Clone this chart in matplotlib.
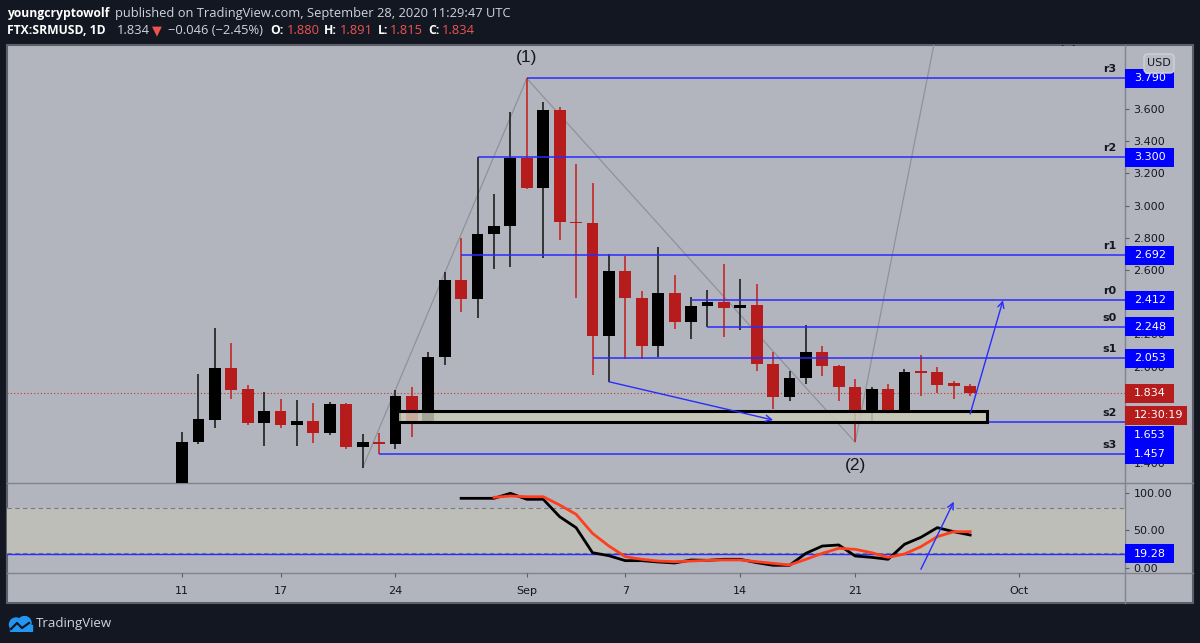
import numpy as np
import pandas as pd
import matplotlib
matplotlib.use('Agg')
import matplotlib.pyplot as plt
import matplotlib.dates as mdates
import matplotlib.transforms as mtransforms
from matplotlib.patches import Rectangle, FancyBboxPatch, Circle

# ---- daily candles FTX:SRMUSD (Aug 11 .. Sep 28, 2020) ----
dates = pd.date_range('2020-08-11', '2020-09-28', freq='D')
opens = [1.200, 1.534, 1.668, 1.989, 1.859, 1.652, 1.724, 1.637, 1.662, 1.586,
         1.766, 1.503, 1.534, 1.517, 1.817, 1.660, 2.062, 2.538, 2.420, 2.824,
         2.875, 3.298, 3.111, 3.594, 2.900, 2.891, 2.190, 2.594, 2.428, 2.128,
         2.455, 2.279, 2.376, 2.403, 2.362, 2.383, 2.016, 1.813, 1.927, 2.093,
         2.004, 1.875, 1.730, 1.859, 1.730, 1.973, 1.965, 1.900, 1.880]
highs = [1.596, 1.954, 2.238, 2.145, 1.886, 1.840, 1.799, 1.793, 1.776, 1.779,
         1.772, 1.580, 1.586, 1.855, 1.871, 2.089, 2.588, 2.797, 3.300, 3.071,
         3.580, 3.790, 3.642, 3.610, 3.258, 3.139, 2.698, 2.687, 2.470, 2.745,
         2.569, 2.430, 2.476, 2.637, 2.542, 2.511, 2.089, 1.975, 2.258, 2.128,
         2.010, 1.921, 1.876, 1.890, 1.985, 2.072, 1.996, 1.913, 1.891]
lows = [1.150, 1.519, 1.621, 1.799, 1.637, 1.509, 1.617, 1.509, 1.527, 1.575,
        1.486, 1.372, 1.457, 1.486, 1.565, 1.653, 2.010, 2.337, 2.300, 2.604,
        2.621, 3.102, 2.673, 2.786, 2.424, 1.948, 1.906, 2.045, 2.045, 2.058,
        2.232, 2.170, 2.248, 2.186, 2.227, 1.973, 1.735, 1.788, 1.890, 1.942,
        1.788, 1.530, 1.658, 1.704, 1.720, 1.817, 1.834, 1.797, 1.815]
closes = [1.534, 1.673, 1.989, 1.855, 1.648, 1.724, 1.637, 1.662, 1.586, 1.766,
          1.503, 1.534, 1.517, 1.817, 1.664, 2.062, 2.538, 2.420, 2.824, 2.875,
          3.298, 3.107, 3.594, 2.896, 2.890, 2.190, 2.594, 2.424, 2.128, 2.455,
          2.279, 2.378, 2.403, 2.362, 2.383, 2.014, 1.813, 1.927, 2.093, 2.004,
          1.875, 1.730, 1.859, 1.730, 1.968, 1.962, 1.884, 1.880, 1.834]

# ---- stochastic oscillator panel ----
k_dates = pd.date_range('2020-08-28', '2020-09-28', freq='D')
stoch_k = [92.9, 92.9, 92.9, 99.6, 91.6, 91.6, 68.4, 53.8, 20.4, 16.4, 9.8, 9.8,
           8.0, 6.7, 10.7, 10.2, 11.6, 11.6, 7.1, 3.6, 3.6, 19.6, 29.3, 30.7,
           16.0, 14.2, 11.6, 31.6, 40.9, 53.8, 48.4, 44.0]
d_dates = pd.date_range('2020-08-30', '2020-09-28', freq='D')
stoch_d = [94.2, 96.0, 95.0, 95.0, 84.0, 71.6, 46.2, 29.3, 15.1, 11.6, 9.3, 8.4,
           9.3, 10.2, 10.7, 10.7, 8.4, 6.2, 4.0, 11.6, 19.6, 26.2, 24.9, 20.4,
           14.2, 18.7, 28.4, 41.8, 48.4, 48.4]
osc_level = 19.28

# ---- drawings ----
level_names = ['r3', 'r2', 'r1', 'r0', 's0', 's1', 's2', 's3']
level_values = [3.790, 3.300, 2.692, 2.412, 2.248, 2.053, 1.653, 1.457]
level_starts = ['2020-09-01', '2020-08-29', '2020-08-28', '2020-09-11',
                '2020-09-12', '2020-09-05', '2020-08-26', '2020-08-23']
tag_y = [3.790, 3.300, 2.692, 2.412, 2.248, 2.053, 1.575, 1.457]  # s2 tag pushed down

wave_dates = ['2020-08-22', '2020-09-01', '2020-09-21', '2020-09-26 09:00']
wave_prices = [1.372, 3.790, 1.530, 4.300]
wave_labels = ['(1)', '(2)', '(3)']
wave_label_dates = ['2020-09-01', '2020-09-21', '2020-10-04']
wave_label_prices = [3.917, 1.383, 4.035]

arrow1 = (('2020-09-06', 1.906), ('2020-09-16', 1.668))
arrow2 = (('2020-09-28', 1.706), ('2020-09-30', 2.412))
osc_arrow = (('2020-09-25', -1.7), ('2020-09-27', 88.4))
box_dates = ('2020-08-24 02:00', '2020-09-29')
box_prices = (1.658, 1.724)

last_price = 1.834
countdown = '12:30:19'
countdown_y = 1.699

# price ticks hidden behind the axis tags get no text
price_ticks = [1.4, 1.6, 1.8, 2.0, 2.2, 2.4, 2.6, 2.8, 3.0, 3.2, 3.4, 3.6, 3.8]
hidden_ticks = [1.6, 1.8, 2.4, 3.8]

tick_dates = ['2020-08-11', '2020-08-17', '2020-08-24', '2020-09-01',
              '2020-09-07', '2020-09-14', '2020-09-21', '2020-10-01']
tick_labels = ['11', '17', '24', 'Sep', '7', '14', '21', 'Oct']

BG = '#b2b5bd'
DARK = '#131722'
BLUE = '#0000ff'
LINE_BLUE = '#2b2bff'
RED = '#b71c1c'
HDR_RED = '#ef5350'

W, H = 1200, 643


def fx(px):
    return px / W


def fy(py):
    return 1 - py / H


def d2n(s):
    return mdates.date2num(pd.Timestamp(s))


fig = plt.figure(figsize=(W / 100, H / 100), dpi=100, facecolor=DARK)

# chart panel background + separators
fig.add_artist(Rectangle((fx(7), fy(603)), fx(1193) - fx(7), fy(45) - fy(603),
                         transform=fig.transFigure, facecolor=BG,
                         edgecolor='#5d606b', lw=1.5, zorder=-1))
sep_kw = dict(transform=fig.transFigure, color='#80838d', lw=1, zorder=-0.5)
fig.add_artist(plt.Line2D([fx(7), fx(1193)], [fy(483), fy(483)], **sep_kw))
fig.add_artist(plt.Line2D([fx(7), fx(1193)], [fy(573), fy(573)], **sep_kw))
fig.add_artist(plt.Line2D([fx(1125), fx(1125)], [fy(45), fy(603)], **sep_kw))

base = d2n('2020-08-11')
px_day = 16.42
x0 = base - (182 - 7) / px_day
x1 = base + (1125 - 182) / px_day

# ---------------- price pane ----------------
ax = fig.add_axes([fx(7), fy(483), fx(1125) - fx(7), fy(45) - fy(483)])
ax.set_facecolor('none')
for s in ax.spines.values():
    s.set_visible(False)
ax.set_xlim(x0, x1)
ax.set_ylim(1.277, 3.9975)
ax.yaxis.tick_right()
ax.set_yticks(price_ticks)
ax.set_yticklabels(['' if v in hidden_ticks else f'{v:.3f}' for v in price_ticks])
ax.tick_params(axis='y', length=3, width=0.8, color='#5d606b', labelsize=8,
               labelcolor=DARK, pad=3)
ax.tick_params(axis='x', bottom=False, labelbottom=False)

xs = mdates.date2num(dates)
o = np.array(opens)
c = np.array(closes)
up = c >= o
body_col = np.where(up, '#000000', RED)
wick_col = np.where(up, '#1e1e1e', '#c62828')
bottoms = np.minimum(o, c)
heights = np.maximum(np.abs(c - o), 0.008)
ax.vlines(xs, lows, highs, colors=wick_col, lw=1.2, zorder=3)
ax.bar(xs, heights, bottom=bottoms, width=0.72, color=body_col, zorder=4)

# last price dotted line
ax.axhline(last_price, color='#c0392b', ls=(0, (1, 2)), lw=0.8, zorder=2)

# wave zigzag and labels
ax.plot([d2n(d) for d in wave_dates], wave_prices, color='#8f9299', lw=0.9, zorder=2)
for lab, d, p in zip(wave_labels, wave_label_dates, wave_label_prices):
    ax.text(d2n(d), p, lab, ha='center', va='center', fontsize=12.5,
            family='Liberation Sans', color=DARK, zorder=5, clip_on=True)

# pivot levels
blend = mtransforms.blended_transform_factory(ax.transAxes, ax.transData)
for name, val, st in zip(level_names, level_values, level_starts):
    ax.hlines(val, d2n(st), x1, color=LINE_BLUE, lw=1.1, zorder=5)
    ax.annotate(name, xy=(0.9925, val), xycoords=blend, xytext=(0, 6.5),
                textcoords='offset points', ha='right', va='center',
                fontsize=8, fontweight='bold', color=DARK, zorder=6)

# support box
bx0, bx1 = d2n(box_dates[0]), d2n(box_dates[1])
ax.add_patch(Rectangle((bx0, box_prices[0]), bx1 - bx0, box_prices[1] - box_prices[0],
                       facecolor=(0.80, 0.80, 0.72, 0.82), edgecolor='black',
                       lw=2.2, zorder=6))

# arrows
for (sd, sp), (ed, ep) in [arrow1, arrow2]:
    ax.annotate('', xy=(d2n(ed), ep), xytext=(d2n(sd), sp),
                arrowprops=dict(arrowstyle='->', color=LINE_BLUE, lw=1,
                                mutation_scale=11, shrinkA=0, shrinkB=0),
                zorder=7)

axw_px = (1125 - 7)


def tag(axis, y, text, color, width_px=49):
    pos = axis.get_position()
    ylo, yhi = axis.get_ylim()
    per_px = (yhi - ylo) / (pos.height * H)
    h = 19 * per_px
    tr = mtransforms.blended_transform_factory(axis.transAxes, axis.transData)
    axis.add_patch(Rectangle((1.0, y - h / 2), width_px / axw_px, h, transform=tr,
                             facecolor=color, edgecolor='none', clip_on=False,
                             zorder=10))
    axis.text(1.0 + 9 / axw_px, y, text, transform=tr, ha='left', va='center',
              fontsize=8, color='white', clip_on=False, zorder=11)


for v, ty in zip(level_values, tag_y):
    tag(ax, ty, f'{v:.3f}', BLUE)
tag(ax, last_price, f'{last_price:.3f}', RED)
tag(ax, countdown_y, countdown, RED, width_px=62)

# USD badge
fig.add_artist(FancyBboxPatch((1144, H - 73), 30, 19,
                              boxstyle='round,pad=0,rounding_size=4',
                              transform=mtransforms.IdentityTransform(),
                              facecolor='#b9bcc4', edgecolor='#d0d2d8', lw=1, zorder=3))
fig.text(fx(1159), fy(63.5), 'USD', ha='center', va='center', fontsize=8, color=DARK)

# ---------------- oscillator pane ----------------
ax2 = fig.add_axes([fx(7), fy(573), fx(1125) - fx(7), fy(483) - fy(573)], sharex=ax)
ax2.set_facecolor('none')
for s in ax2.spines.values():
    s.set_visible(False)
ax2.set_ylim(-6.67, 113.33)
ax2.axhspan(20, 80, color='#bdbeb8', zorder=0)
ax2.axhline(80, color='#787b86', ls=(0, (4, 3)), lw=0.8, zorder=1)
ax2.axhline(20, color='#787b86', ls=(0, (4, 3)), lw=0.8, zorder=1)
ax2.axhline(osc_level, color=LINE_BLUE, lw=1, zorder=2)
ax2.plot(mdates.date2num(k_dates), stoch_k, color='black', lw=2, zorder=3)
ax2.plot(mdates.date2num(d_dates), stoch_d, color='#ff3d1f', lw=2, zorder=4)
(sd, sp), (ed, ep) = osc_arrow
ax2.annotate('', xy=(d2n(ed), ep), xytext=(d2n(sd), sp),
             arrowprops=dict(arrowstyle='->', color=LINE_BLUE, lw=1,
                             mutation_scale=11, shrinkA=0, shrinkB=0), zorder=5)
ax2.yaxis.tick_right()
ax2.set_yticks([0, 50, 100])
ax2.set_yticklabels(['0.00', '50.00', '100.00'])
ax2.tick_params(axis='y', length=3, width=0.8, color='#5d606b', labelsize=8,
                labelcolor=DARK, pad=3)
ax2.set_xticks([d2n(d) for d in tick_dates])
ax2.set_xticklabels(tick_labels)
ax2.tick_params(axis='x', length=3, width=0.8, color='#5d606b', labelsize=8,
                labelcolor=DARK, pad=6)
ax2.set_xlim(x0, x1)
tag(ax2, osc_level, f'{osc_level:.2f}', BLUE)

# ---------------- header ----------------
hdr_font = ['Open Sans', 'DejaVu Sans']
line1 = [('youngcryptowolf', 7, 'white', 'bold'),
         ('published on TradingView.com, September 28, 2020 11:29:47 UTC', 115, '#d1d4dc', 'normal')]
line2 = [('FTX:SRMUSD, 1D', 7, 'white', 'bold'),
         ('1.834', 117, '#d1d4dc', 'normal'),
         ('\u25bc', 152, HDR_RED, 'normal'),
         ('\u22120.046 (\u22122.45%)', 168, '#d1d4dc', 'normal'),
         ('O:', 270, 'white', 'bold'), ('1.880', 287, HDR_RED, 'normal'),
         ('H:', 324, 'white', 'bold'), ('1.891', 340, HDR_RED, 'normal'),
         ('L:', 378, 'white', 'bold'), ('1.815', 390, HDR_RED, 'normal'),
         ('C:', 428, 'white', 'bold'), ('1.834', 442, HDR_RED, 'normal')]
for row, yy in [(line1, 13.5), (line2, 31)]:
    for txt, xx, col, wt in row:
        fig.text(fx(xx), fy(yy), txt, ha='left', va='center',
                 fontsize=8.7 if wt == 'bold' else 9.3,
                 color=col, fontweight=wt, family=hdr_font)

# ---------------- footer logo ----------------
icon = fig.add_axes([fx(7), fy(632), fx(34) - fx(7), fy(616) - fy(632)])
icon.set_xlim(0, 27)
icon.set_ylim(0, 16)
icon.axis('off')
icon.add_patch(Circle((9, 7.5), 6.5, color='#2196f3'))
icon.add_patch(Circle((17.5, 9), 6.5, color='#2196f3'))
icon.add_patch(Rectangle((2.5, 1), 22, 6, color='#2196f3'))
icon.plot([4, 10, 15, 22], [3, 9, 4, 9], color=DARK, lw=1.6)
fig.text(fx(36), fy(623), 'TradingView', ha='left', va='center', fontsize=9.5,
         color='#d1d4dc', family=hdr_font)

fig.savefig('out.png', dpi=100, facecolor=DARK)
